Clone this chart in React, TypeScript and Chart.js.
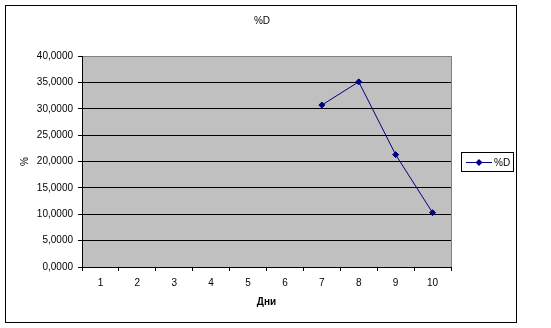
import React, { useEffect, useRef } from "react";
import { Chart, registerables } from "chart.js";

Chart.register(...registerables);

const categories = ["1", "2", "3", "4", "5", "6", "7", "8", "9", "10"];
const seriesD: (number | null)[] = [null, null, null, null, null, null, 30.7, 35.1, 21.3, 10.3];
const seriesLabel = "%D";
const chartTitle = "%D";
const xTitle = "Дни";
const yTitle = "%";
const yMin = 0;
const yMax = 40;
const yStep = 5;

const FONT = "'Liberation Sans', Arial, sans-serif";
const NAVY = "#000080";

const framePlugin = {
  id: "excelFrame",
  beforeDraw(chart: any) {
    const { ctx, chartArea } = chart;
    ctx.save();
    ctx.fillStyle = "#ffffff";
    ctx.fillRect(0, 0, chart.width, chart.height);
    ctx.fillStyle = "#C0C0C0";
    ctx.fillRect(chartArea.left, chartArea.top, chartArea.right - chartArea.left, chartArea.bottom - chartArea.top);
    // outer border
    ctx.strokeStyle = "#000";
    ctx.lineWidth = 1;
    ctx.strokeRect(5.5, 5.5, 511, 317);
    // right border of plot area
    ctx.strokeStyle = "#808080";
    ctx.beginPath();
    ctx.moveTo(Math.round(chartArea.right) + 0.5, chartArea.top);
    ctx.lineTo(Math.round(chartArea.right) + 0.5, chartArea.bottom);
    ctx.stroke();
    // title
    ctx.fillStyle = "#000";
    ctx.font = `10px ${FONT}`;
    ctx.textAlign = "center";
    ctx.textBaseline = "middle";
    ctx.fillText(chartTitle, 262, 21);
    ctx.restore();
  },
  afterDraw(chart: any) {
    const { ctx } = chart;
    const ds = chart.data.datasets[0];
    ctx.save();
    // legend box
    ctx.fillStyle = "#fff";
    ctx.fillRect(461, 152, 52, 19);
    ctx.strokeStyle = "#000";
    ctx.lineWidth = 1;
    ctx.strokeRect(461.5, 152.5, 52, 19);
    const ly = 162;
    ctx.strokeStyle = ds.borderColor;
    ctx.beginPath();
    ctx.moveTo(466, ly + 0.5);
    ctx.lineTo(492, ly + 0.5);
    ctx.stroke();
    ctx.fillStyle = ds.pointBackgroundColor;
    const cx = 479, cy = ly + 0.5, r = 3.5;
    ctx.beginPath();
    ctx.moveTo(cx, cy - r);
    ctx.lineTo(cx + r, cy);
    ctx.lineTo(cx, cy + r);
    ctx.lineTo(cx - r, cy);
    ctx.closePath();
    ctx.fill();
    ctx.fillStyle = "#000";
    ctx.font = `10px ${FONT}`;
    ctx.textAlign = "left";
    ctx.textBaseline = "middle";
    ctx.fillText(ds.label, 494, ly + 1);
    ctx.restore();
  },
};

export default function App() {
  const ref = useRef<HTMLCanvasElement | null>(null);
  useEffect(() => {
    if (!ref.current) return;
    const chart = new Chart(ref.current, {
      type: "line",
      data: {
        labels: categories,
        datasets: [
          {
            label: seriesLabel,
            data: seriesD,
            borderColor: NAVY,
            backgroundColor: NAVY,
            pointBackgroundColor: NAVY,
            pointBorderColor: NAVY,
            borderWidth: 1,
            pointStyle: "rectRot",
            pointRadius: 3,
            pointBorderWidth: 1,
            tension: 0,
            spanGaps: false,
          },
        ],
      },
      options: {
        responsive: false,
        animation: false,
        devicePixelRatio: 1,
        layout: { padding: { top: 56, right: 100, bottom: 0, left: 0 } },
        plugins: {
          legend: { display: false },
          title: { display: false },
          tooltip: { enabled: false },
        },
        scales: {
          x: {
            type: "category",
            offset: true,
            afterFit: (s: any) => {
              s.height = 61;
            },
            grid: {
              offset: true,
              drawOnChartArea: false,
              drawTicks: true,
              tickLength: 4,
              color: "#000",
              tickColor: "#000",
            },
            border: { color: "#000", width: 1 },
            ticks: {
              color: "#000",
              font: { family: FONT, size: 10 },
              padding: 6,
              maxRotation: 0,
              autoSkip: false,
            },
            title: {
              display: true,
              text: xTitle,
              color: "#000",
              font: { family: FONT, size: 10, weight: "bold" },
              padding: { top: 0, bottom: 20 },
            },
          },
          y: {
            min: yMin,
            max: yMax,
            afterFit: (s: any) => {
              s.width = 82;
            },
            grid: {
              color: (c: any) => (c.tick && c.tick.value === yMax ? "#808080" : "#000"),
              tickColor: "#000",
              drawTicks: true,
              tickLength: 4,
            },
            border: { color: "#000", width: 1 },
            ticks: {
              stepSize: yStep,
              color: "#000",
              font: { family: FONT, size: 10 },
              padding: 5,
              callback: (v: any) => Number(v).toFixed(4).replace(".", ","),
            },
            title: {
              display: true,
              text: yTitle,
              color: "#000",
              font: { family: FONT, size: 10 },
              padding: { top: 19, bottom: 0 },
            },
          },
        },
      },
      plugins: [framePlugin],
    } as any);
    return () => chart.destroy();
  }, []);
  return (
    <div style={{ position: "fixed", left: 0, top: 0, width: 551, height: 328, background: "#fff" }}>
      <canvas ref={ref} width={551} height={328} style={{ display: "block", width: 551, height: 328 }} />
    </div>
  );
}
